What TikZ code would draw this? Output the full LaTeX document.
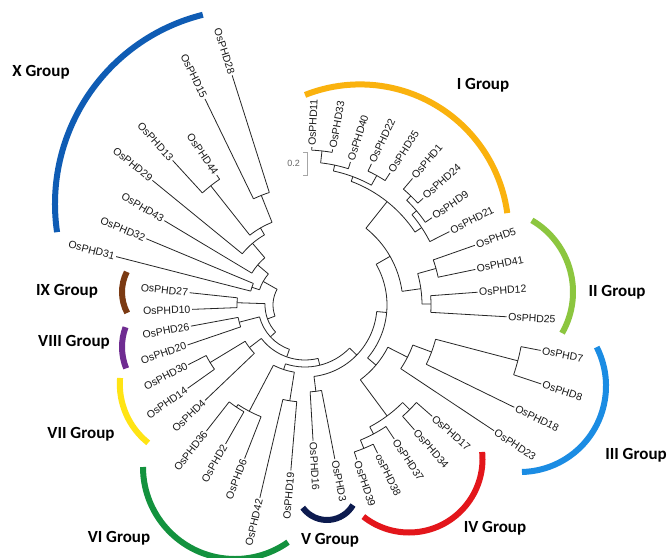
\documentclass[tikz,border=0pt]{standalone}
\usepackage{fontspec}
\setmainfont{Liberation Sans}
\newfontfamily\grpfont{Carlito}
\definecolor{cX}{HTML}{0F5CB4}
\definecolor{cI}{HTML}{FAB20E}
\definecolor{cII}{HTML}{8CC63F}
\definecolor{cIII}{HTML}{1B8CE3}
\definecolor{cIV}{HTML}{E3161B}
\definecolor{cV}{HTML}{0D1B4F}
\definecolor{cVI}{HTML}{13923E}
\definecolor{cVII}{HTML}{FFE414}
\definecolor{cVIII}{HTML}{6F2C91}
\definecolor{cIX}{HTML}{7B3A12}
\newcommand\tleaf[4]{%
  \ifnum#2<24\relax
    \pgfmathsetmacro\tmpa{87.5-7.57*#2}%
  \else
    \pgfmathsetmacro\tmpa{-86.6-8.29*(#2-23)}%
  \fi
  \expandafter\xdef\csname tang#1\endcsname{\tmpa}%
  \coordinate (#1) at (\tmpa:#3);
  \ifnum#2<24\relax
    \node[lbl, anchor=west, rotate=\tmpa] (t#1) at (#1) {#4};
  \else
    \pgfmathsetmacro\tmpb{\tmpa+180}%
    \node[lbl, anchor=east, rotate=\tmpb] (t#1) at (#1) {#4};
  \fi
}
\newcommand\tjoin[4]{%
  \edef\tA{\csname tang#3\endcsname}%
  \edef\tB{\csname tang#4\endcsname}%
  \pgfmathsetmacro\tmpm{(\tA+\tB)/2}%
  \expandafter\xdef\csname tang#1\endcsname{\tmpm}%
  \coordinate (#1) at (\tmpm:#2);
  \coordinate (#1-A) at (\tA:#2);
  \coordinate (#1-B) at (\tB:#2);
  \draw[br] (#1-A) arc[start angle=\tA, end angle=\tB, radius=#2];
  \draw[br] (#1-A) -- (#3);
  \draw[br] (#1-B) -- (#4);
}
\begin{document}
\begin{tikzpicture}[x=1pt,y=1pt,
  br/.style={draw=black!85, line width=0.8pt},
  lbl/.style={font=\fontsize{10.5}{12}\selectfont, inner sep=1.5pt, text=black!90},
  grp/.style={font=\grpfont\bfseries\fontsize{17}{20}\selectfont, inner sep=0pt},
  garc/.style={line width=6pt},
]
\useasboundingbox[fill=white] (-305,-252) rectangle (363,305);
% leaves
\tleaf{L11}{0}{158}{OsPHD11}
\tleaf{L33}{1}{158}{OsPHD33}
\tleaf{L40}{2}{150}{OsPHD40}
\tleaf{L22}{3}{156}{OsPHD22}
\tleaf{L35}{4}{157}{OsPHD35}
\tleaf{L1}{5}{166}{OsPHD1}
\tleaf{L24}{6}{159}{OsPHD24}
\tleaf{L9}{7}{154}{OsPHD9}
\tleaf{L21}{8}{162}{OsPHD21}
\tleaf{L5}{9}{180}{OsPHD5}
\tleaf{L41}{10}{174}{OsPHD41}
\tleaf{L12}{11}{173}{OsPHD12}
\tleaf{L25}{12}{202}{OsPHD25}
\tleaf{L7}{13}{240}{OsPHD7}
\tleaf{L8}{14}{249}{OsPHD8}
\tleaf{L18}{15}{233}{OsPHD18}
\tleaf{L23}{16}{227}{OsPHD23}
\tleaf{L17}{17}{169}{OsPHD17}
\tleaf{L34}{18}{166}{OsPHD34}
\tleaf{L37}{19}{161}{OsPHD37}
\tleaf{L38}{20}{165}{osPHD38}
\tleaf{L39}{21}{163}{OsPHD39}
\tleaf{L3}{22}{157}{OsPHD3}
\tleaf{L16}{23}{136}{OsPHD16}
\tleaf{L19}{24}{166}{OsPHD19}
\tleaf{L42}{25}{198}{OsPHD42}
\tleaf{L6}{26}{165}{OsPHD6}
\tleaf{L2}{27}{160}{OsPHD2}
\tleaf{L36}{28}{160}{OsPHD36}
\tleaf{L4}{29}{138}{OsPHD4}
\tleaf{L14}{30}{144}{OsPHD14}
\tleaf{L30}{31}{131}{OsPHD30}
\tleaf{L20}{32}{124}{OsPHD20}
\tleaf{L26}{33}{116}{OsPHD26}
\tleaf{L10}{34}{113}{OsPHD10}
\tleaf{L27}{35}{116}{OsPHD27}
\tleaf{L31}{36}{195}{OsPHD31}
\tleaf{L32}{37}{172}{OsPHD32}
\tleaf{L43}{38}{164}{OsPHD43}
\tleaf{L29}{39}{197}{OsPHD29}
\tleaf{L13}{40}{196}{OsPHD13}
\tleaf{L44}{41}{157}{OsPHD44}
\tleaf{L15}{42}{229}{OsPHD15}
\tleaf{L28}{43}{241}{OsPHD28}
% internal nodes
\tjoin{na}{155}{L11}{L33}
\tjoin{nb}{143}{na}{L40}
\tjoin{nc}{148}{L22}{L35}
\tjoin{nd}{137}{nb}{nc}
\tjoin{ne}{152}{L1}{L24}
\tjoin{nf}{146}{ne}{L9}
\tjoin{ng}{140}{nf}{L21}
\tjoin{nI}{132}{nd}{ng}
\tjoin{nh}{136}{L5}{L41}
\tjoin{nk}{126}{L12}{L25}
\tjoin{nII}{117}{nh}{nk}
\tjoin{nIA}{98}{nI}{nII}
\tjoin{nm}{220}{L7}{L8}
\tjoin{nn}{135}{nm}{L18}
\tjoin{nIII}{115}{nn}{L23}
\tjoin{no}{148}{L17}{L34}
\tjoin{nq}{155}{L38}{L39}
\tjoin{ns}{146}{L37}{nq}
\tjoin{nIV}{138}{no}{ns}
\tjoin{nIB}{93}{nIII}{nIV}
\tjoin{P1}{82}{nIA}{nIB}
\tjoin{nV}{87}{L3}{L16}
\tjoin{Q5}{72}{nV}{P1}
\tjoin{nt}{97}{L19}{L42}
\tjoin{nu}{123}{L2}{L36}
\tjoin{nw}{120}{L6}{nu}
\tjoin{nVI}{68}{nt}{nw}
\tjoin{Q4}{62}{nVI}{Q5}
\tjoin{nx}{111}{L14}{L30}
\tjoin{nVII}{70}{L4}{nx}
\tjoin{Q3}{55}{nVII}{Q4}
\tjoin{nVIII}{68}{L20}{L26}
\tjoin{Q2}{47}{nVIII}{Q3}
\tjoin{nIX}{68}{L10}{L27}
\tjoin{Q1}{40}{nIX}{Q2}
\tjoin{ny}{152}{L13}{L44}
\tjoin{nz}{118}{L15}{L28}
\tjoin{naa}{89}{ny}{nz}
\tjoin{nbb}{81}{L29}{naa}
\tjoin{ncc}{62}{L43}{nbb}
\tjoin{ndd}{56}{L31}{L32}
\tjoin{nX}{48}{ndd}{ncc}
\tjoin{root}{32}{nX}{Q1}
% scale bar
\draw[gray!70, line width=0.8pt] (-2,153) -- (2,153) -- (2,130) -- (-2,130);
\node[font=\fontsize{9}{10}\selectfont, text=black!60, anchor=east, inner sep=1pt] (sb) at (-4,142) {0.2};
% group arcs
\draw[garc, cX] (-55,101) ++(104:195) arc[start angle=104, end angle=188.3, radius=195];
\draw[garc, cI] (55,72) ++(111.7:148.6) arc[start angle=111.7, end angle=7.7, radius=148.6];
\draw[garc, cII] (185,13) ++(59.7:83) arc[start angle=59.7, end angle=-29.7, radius=83];
\draw[garc, cIII] (215,-81) ++(26.9:86) arc[start angle=26.9, end angle=-88.7, radius=86];
\draw[garc, cIV] (104,-154) ++(5.5:73.5) arc[start angle=5.5, end angle=-128.4, radius=73.5];
\draw[garc, cV] (22,-185) ++(-144:30) arc[start angle=-144, end angle=-30, radius=30];
\draw[garc, cVI] (-70,-162) ++(180:92) arc[start angle=180, end angle=305.2, radius=92];
\draw[garc, cVII] (-110,-79) ++(175.4:75.2) arc[start angle=175.4, end angle=231.5, radius=75.2];
\draw[garc, cVIII] (-126,-42) ++(159.7:57) arc[start angle=159.7, end angle=202, radius=57];
\draw[garc, cIX] (-138.5,13) ++(153.1:44.5) arc[start angle=153.1, end angle=208, radius=44.5];
% group labels
\node[grp] (gX) at (-264,233) {X Group};
\node[grp] (gI) at (178,220) {I Group};
\node[grp] (gII) at (312,13) {II Group};
\node[grp] (gIII) at (331,-150) {III Group};
\node[grp] (gIV) at (190,-223) {IV Group};
\node[grp] (gV) at (25,-235) {V Group};
\node[grp] (gVI) at (-186,-233) {VI Group};
\node[grp] (gVII) at (-224,-129) {VII Group};
\node[grp] (gVIII) at (-231,-37) {VIII Group};
\node[grp] (gIX) at (-238,14) {IX Group};
\end{tikzpicture}
\end{document}
